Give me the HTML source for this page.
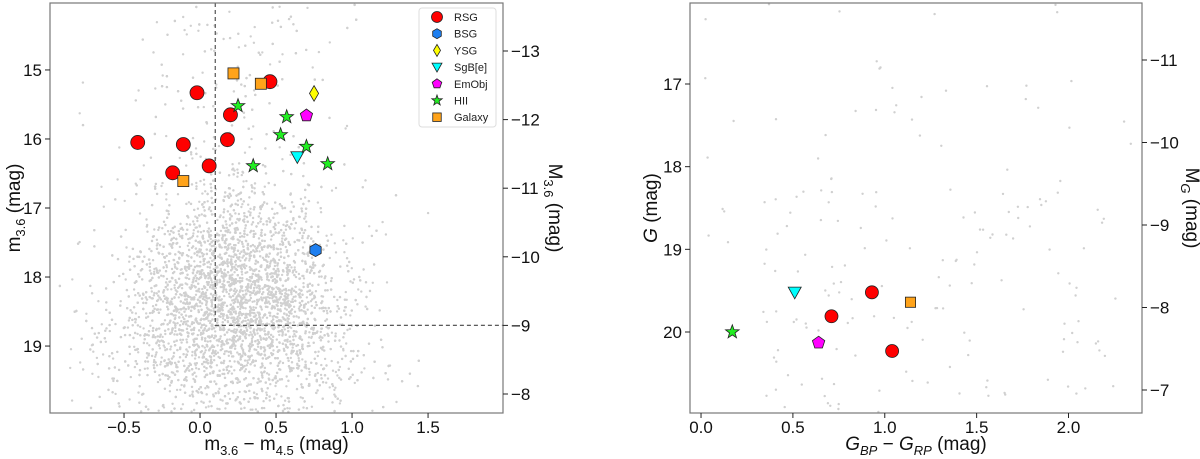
<!DOCTYPE html>
<html><head><meta charset="utf-8"><style>
html,body{margin:0;padding:0;background:#fff;}
svg{display:block;font-family:"Liberation Sans","DejaVu Sans",sans-serif;}
</style></head><body>
<svg id="fig" width="1200" height="459" viewBox="0 0 1200 459" xmlns="http://www.w3.org/2000/svg">
<g id="L"></g>
<g id="R"></g>
</svg>
<script>
// ---- Left panel data ----
const rsgX=[-0.41,-0.02,0.46,0.20,0.18,-0.11,0.06,-0.18];
const rsgY=[16.05,15.33,15.17,15.65,16.01,16.08,16.39,16.49];
const galX=[0.22,0.40,-0.11];
const galY=[15.05,15.20,16.61];
const bsgX=[0.76], bsgY=[17.61];
const ysgX=[0.75], ysgY=[15.34];
const sgbX=[0.64], sgbY=[16.26];
const emoX=[0.70], emoY=[15.66];
const hiiX=[0.25,0.57,0.53,0.70,0.35,0.84];
const hiiY=[15.52,15.68,15.94,16.11,16.39,16.36];
const lXTicks=[-0.5,0.0,0.5,1.0,1.5];
const lXTickLabels=["\u22120.5","0.0","0.5","1.0","1.5"];
const lYTicks=[15,16,17,18,19];
const lY2Ticks=[-13,-12,-11,-10,-9,-8];
const lY2TickLabels=["\u221213","\u221212","\u221211","\u221210","\u22129","\u22128"];
const cutColor=0.1, cutMag=18.7;
// ---- Right panel data ----
const rRsgX=[0.93,0.71,1.04], rRsgY=[19.52,19.81,20.23];
const rSgbX=[0.51], rSgbY=[19.52];
const rGalX=[1.14], rGalY=[19.64];
const rHiiX=[0.17], rHiiY=[20.00];
const rEmoX=[0.64], rEmoY=[20.13];
const rXTicks=[0.0,0.5,1.0,1.5,2.0];
const rXTickLabels=["0.0","0.5","1.0","1.5","2.0"];
const rYTicks=[17,18,19,20];
const rY2Ticks=[-11,-10,-9,-8,-7];
const rY2TickLabels=["\u221211","\u221210","\u22129","\u22128","\u22127"];

const NS="http://www.w3.org/2000/svg";
function mk(p,tag,at){const e=document.createElementNS(NS,tag);for(const k in at)e.setAttribute(k,at[k]);p.appendChild(e);return e;}

let seed=12345;function rnd(){seed=(seed*1103515245+12345)%2147483648;return seed/2147483648;}
function gauss(){let u=rnd()||1e-9,v=rnd();return Math.sqrt(-2*Math.log(u))*Math.cos(2*Math.PI*v);}

function marker(g,type,cx,cy,s,name){
  let e;const st={stroke:"#222","stroke-width":0.8};
  if(type==="circle"){e=mk(g,"circle",{cx:cx,cy:cy,r:s,fill:"#ff0000",...st});}
  else if(type==="square"){e=mk(g,"rect",{x:cx-s*0.85,y:cy-s*0.85,width:s*1.7,height:s*1.7,fill:"#ffa31a",...st});}
  else if(type==="hex"){let p=[];for(let i=0;i<6;i++){const a=Math.PI/6+i*Math.PI/3;p.push((cx+s*Math.cos(a)).toFixed(1)+","+(cy+s*Math.sin(a)).toFixed(1));}e=mk(g,"polygon",{points:p.join(" "),fill:"#1e7ff0",...st});}
  else if(type==="diamond"){e=mk(g,"polygon",{points:`${cx},${cy-s*1.2} ${cx+s*0.7},${cy} ${cx},${cy+s*1.2} ${cx-s*0.7},${cy}`,fill:"#ffff00",...st});}
  else if(type==="tri"){e=mk(g,"polygon",{points:`${cx-s},${cy-s*0.8} ${cx+s},${cy-s*0.8} ${cx},${cy+s}`,fill:"#00ffff",...st});}
  else if(type==="pent"){let p=[];for(let i=0;i<5;i++){const a=-Math.PI/2+i*2*Math.PI/5;p.push((cx+s*Math.cos(a)).toFixed(1)+","+(cy+s*Math.sin(a)).toFixed(1));}e=mk(g,"polygon",{points:p.join(" "),fill:"#ff00ff",...st});}
  else if(type==="star"){let p=[];for(let i=0;i<10;i++){const a=-Math.PI/2+i*Math.PI/5;const r=i%2?s*0.45:s*1.1;p.push((cx+r*Math.cos(a)).toFixed(1)+","+(cy+r*Math.sin(a)).toFixed(1));}e=mk(g,"polygon",{points:p.join(" "),fill:"#22ee22",...st});}
  
  
  return e;
}

function panel(g,o){
  const sx=v=>o.x0+(v-o.xmin)/(o.xmax-o.xmin)*(o.x1-o.x0);
  const sy=v=>o.y0+(v-o.ymin)/(o.ymax-o.ymin)*(o.y1-o.y0);
  const sy2=v=>o.y2a+(v-o.y2v0)*(o.y2b-o.y2a)/(o.y2v1-o.y2v0);
  const bg=mk(g,"g",{});
  
  
  for(let i=0;i<o.nbg;i++){
    const p=o.bgGen();
    const X=sx(p[0]),Y=sy(p[1]);
    if(X<o.x0+1||X>o.x1-1||Y<o.y0+1||Y>o.y1-1)continue;
    mk(bg,"circle",{cx:X.toFixed(1),cy:Y.toFixed(1),r:1.2,fill:"#d0d0d0"});
  }
  if(o.extra)o.extra(sx,sy);
  o.series.forEach(s=>{s.x.forEach((v,i)=>marker(g,s.type,sx(v),sy(s.y[i]),s.size,s.name));});
  const fr=mk(g,"rect",{x:o.x0,y:o.y0,width:o.x1-o.x0,height:o.y1-o.y0,fill:"none",stroke:"#777","stroke-width":1.2});
  
  
  o.xt.forEach((v,i)=>{const X=sx(v);mk(g,"line",{x1:X,y1:o.y1,x2:X,y2:o.y1+5,stroke:"#222"});
    const t=mk(g,"text",{x:X,y:o.y1+20,"text-anchor":"middle","font-size":17,fill:"#111"});t.textContent=o.xtl[i];
    
    });
  o.yt.forEach(v=>{const Y=sy(v);mk(g,"line",{x1:o.x0-5,y1:Y,x2:o.x0,y2:Y,stroke:"#222"});
    const t=mk(g,"text",{x:o.x0-8,y:Y+6,"text-anchor":"end","font-size":17,fill:"#111"});t.textContent=String(v);
    
    });
  o.y2t.forEach((v,i)=>{const Y=sy2(v);mk(g,"line",{x1:o.x1,y1:Y,x2:o.x1+5,y2:Y,stroke:"#222"});
    const t=mk(g,"text",{x:o.x1+8,y:Y+6,"font-size":17,fill:"#111"});t.textContent=o.y2tl[i];
    
    });
  const xl=mk(g,"text",{x:(o.x0+o.x1)/2,y:450,"text-anchor":"middle","font-size":19,fill:"#111"});xl.innerHTML=o.xlab;
  
  
  const yl=mk(g,"text",{x:0,y:0,"text-anchor":"middle","font-size":19,fill:"#111",transform:`translate(${o.ylx},${(o.y0+o.y1)/2}) rotate(-90)`});yl.innerHTML=o.ylab;
  
  
  const y2=mk(g,"text",{x:0,y:0,"text-anchor":"middle","font-size":19,fill:"#111",transform:`translate(${o.y2lx},${(o.y0+o.y1)/2}) rotate(90)`});y2.innerHTML=o.y2lab;
  
  
}

const L=document.getElementById('L');
panel(L,{x0:50,x1:503,y0:3,y1:413,xmin:-0.987,xmax:1.993,ymin:14.03,ymax:19.97,
  y2a:51,y2b:394,y2v0:-13,y2v1:-8,
  nbg:6500,bgGen:()=>{
    if(rnd()<0.1){return [0.2+gauss()*0.4,14+rnd()*6];}
    const y=18.4+gauss()*0.8; const w=0.3+0.07*Math.max(0,y-17.5);
    return [0.22+gauss()*w,y];},
  extra:(sx,sy)=>{const p=`M${sx(cutColor)},3 L${sx(cutColor)},${sy(cutMag)} L503,${sy(cutMag)}`;
    const d=mk(L,"path",{d:p,fill:"none",stroke:"#444","stroke-width":1.1,"stroke-dasharray":"4,3"});
    
    },
  series:[{x:rsgX,y:rsgY,type:"circle",size:7,name:"rsg-point"},{x:galX,y:galY,type:"square",size:6.5,name:"galaxy-point"},
    {x:bsgX,y:bsgY,type:"hex",size:6.5,name:"bsg-point"},{x:ysgX,y:ysgY,type:"diamond",size:6.5,name:"ysg-point"},
    {x:sgbX,y:sgbY,type:"tri",size:6.5,name:"sgbe-point"},{x:emoX,y:emoY,type:"pent",size:6.5,name:"emobj-point"},
    {x:hiiX,y:hiiY,type:"star",size:6.5,name:"hii-point"}],
  xt:lXTicks,xtl:lXTickLabels,yt:lYTicks,y2t:lY2Ticks,y2tl:lY2TickLabels,
  xlab:'m<tspan font-size="13" dy="5">3.6</tspan><tspan dy="-5"> \u2212 m</tspan><tspan font-size="13" dy="5">4.5</tspan><tspan dy="-5"> (mag)</tspan>',
  ylab:'m<tspan font-size="13" dy="5">3.6</tspan><tspan dy="-5"> (mag)</tspan>', ylx:20,
  y2lab:'M<tspan font-size="13" dy="5">3.6</tspan><tspan dy="-5"> (mag)</tspan>', y2lx:549});

const lg=mk(L,"g",{});


mk(lg,"rect",{x:419,y:8,width:77,height:119,rx:3,fill:"#fff",stroke:"#ddd"});
const legNames=["RSG","BSG","YSG","SgB[e]","EmObj","HII","Galaxy"];
const legTypes=["circle","hex","diamond","tri","pent","star","square"];
legNames.forEach((n,i)=>{const Y=17+i*16.7;
  const e=mk(lg,"g",{});
  
  
  marker(e,legTypes[i],437,Y,legTypes[i]==="circle"?5.5:5,"legend-marker");
  const t=mk(e,"text",{x:454,y:Y+4,"font-size":11,fill:"#222"});t.textContent=n;});

const R=document.getElementById('R');
panel(R,{x0:690,x1:1142,y0:3,y1:413,xmin:-0.06,xmax:2.40,ymin:16.02,ymax:20.98,
  y2a:60,y2b:390,y2v0:-11,y2v1:-7,
  nbg:180,bgGen:()=>{const u=rnd();return u<0.3?[rnd()*2.4,16+rnd()*3]:[0.3+rnd()*2.0,18.3+rnd()*2.7];},
  series:[{x:rRsgX,y:rRsgY,type:"circle",size:6.5,name:"rsg-point"},{x:rSgbX,y:rSgbY,type:"tri",size:6.5,name:"sgbe-point"},
    {x:rGalX,y:rGalY,type:"square",size:6,name:"galaxy-point"},{x:rHiiX,y:rHiiY,type:"star",size:6.5,name:"hii-point"},
    {x:rEmoX,y:rEmoY,type:"pent",size:6.5,name:"emobj-point"}],
  xt:rXTicks,xtl:rXTickLabels,yt:rYTicks,y2t:rY2Ticks,y2tl:rY2TickLabels,
  xlab:'<tspan font-style="italic">G</tspan><tspan font-size="13" dy="5" font-style="italic">BP</tspan><tspan dy="-5"> \u2212 </tspan><tspan font-style="italic">G</tspan><tspan font-size="13" dy="5" font-style="italic">RP</tspan><tspan dy="-5"> (mag)</tspan>',
  ylab:'<tspan font-style="italic">G</tspan> (mag)', ylx:657,
  y2lab:'M<tspan font-size="13" dy="5" font-style="italic">G</tspan><tspan dy="-5"> (mag)</tspan>', y2lx:1186});
</script>
</body></html>
